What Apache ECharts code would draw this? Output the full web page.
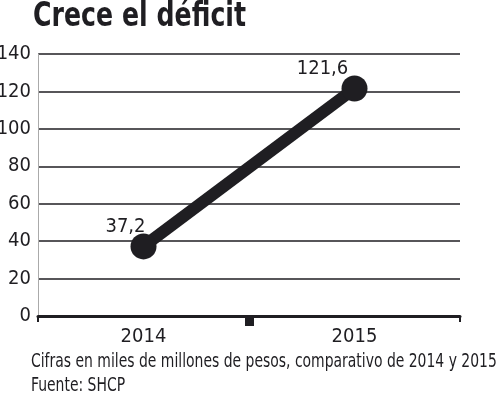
<!DOCTYPE html>
<html><head><meta charset="utf-8">
<script src="https://cdn.jsdelivr.net/npm/echarts@6/dist/echarts.min.js"></script>
<style>html,body{margin:0;padding:0;background:#fff}#c{width:500px;height:396px}</style>
</head><body><div id="c"></div>
<script>
const categories = ['2014', '2015'];
const deficit = [37.2, 121.6];
const valueLabels = ['37,2', '121,6'];
const yTicks = [0, 20, 40, 60, 80, 100, 120, 140];
const titleText = 'Crece el déficit';
const noteText = 'Cifras en miles de millones de pesos, comparativo de 2014 y 2015';
const sourceText = 'Fuente: SHCP';

const FONT = '"DejaVu Sans Condensed", "Liberation Sans Narrow", sans-serif';
const INK = '#1f1e22';
const chart = echarts.init(document.getElementById('c'), null, {renderer: 'canvas'});
chart.setOption({
  animation: false,
  backgroundColor: '#fff',
  grid: {left: 38, right: 40, top: 54, bottom: 80, containLabel: false, outerBoundsMode: 'none'},
  xAxis: [{
    type: 'category', data: categories, boundaryGap: true,
    axisLine: {show: true, lineStyle: {color: INK, width: 3}},
    axisTick: {show: true, interval: 0, length: 6, lineStyle: {color: INK, width: 2}},
    axisLabel: {fontFamily: FONT, fontSize: 20, color: INK, margin: 11}
  }, {
    type: 'category', data: ['', '', ''], boundaryGap: false, position: 'bottom',
    axisLine: {show: false},
    axisTick: {show: true, interval: function (i) { return i === 1; }, length: 10, lineStyle: {color: INK, width: 9}},
    axisLabel: {show: false},
    splitLine: {show: false}
  }],
  yAxis: {
    type: 'value', min: yTicks[0], max: yTicks[yTicks.length - 1], interval: yTicks[1] - yTicks[0],
    axisLine: {show: true, lineStyle: {color: '#aaa', width: 1}},
    axisTick: {show: false},
    axisLabel: {fontFamily: FONT, fontSize: 20, color: INK, margin: 7},
    splitLine: {show: true, lineStyle: {color: INK, width: 1.7}}
  },
  series: [{
    type: 'line', data: deficit, xAxisIndex: 0,
    symbol: 'circle', symbolSize: 26,
    lineStyle: {color: INK, width: 12},
    itemStyle: {color: INK},
    label: {
      show: true, position: 'top',
      formatter: function (p) { return valueLabels[p.dataIndex]; },
      fontFamily: FONT, fontSize: 20, color: INK
    },
    labelLayout: function (p) {
      const dx = p.dataIndex === 0 ? -18 : -32;
      return {x: p.rect.x + p.rect.width / 2 + dx, y: p.rect.y + 3, align: 'center', verticalAlign: 'bottom'};
    }
  }],
  graphic: [
    {type: 'text', x: 33, y: 1, scaleX: 0.85, style: {text: titleText, font: 'bold 33px ' + FONT, fill: INK}},
    {type: 'text', x: 31, y: 352, scaleX: 0.775, style: {text: noteText, font: '20px ' + FONT, fill: INK}},
    {type: 'text', x: 31, y: 376, scaleX: 0.775, style: {text: sourceText, font: '20px ' + FONT, fill: INK}}
  ]
});
</script></body></html>
